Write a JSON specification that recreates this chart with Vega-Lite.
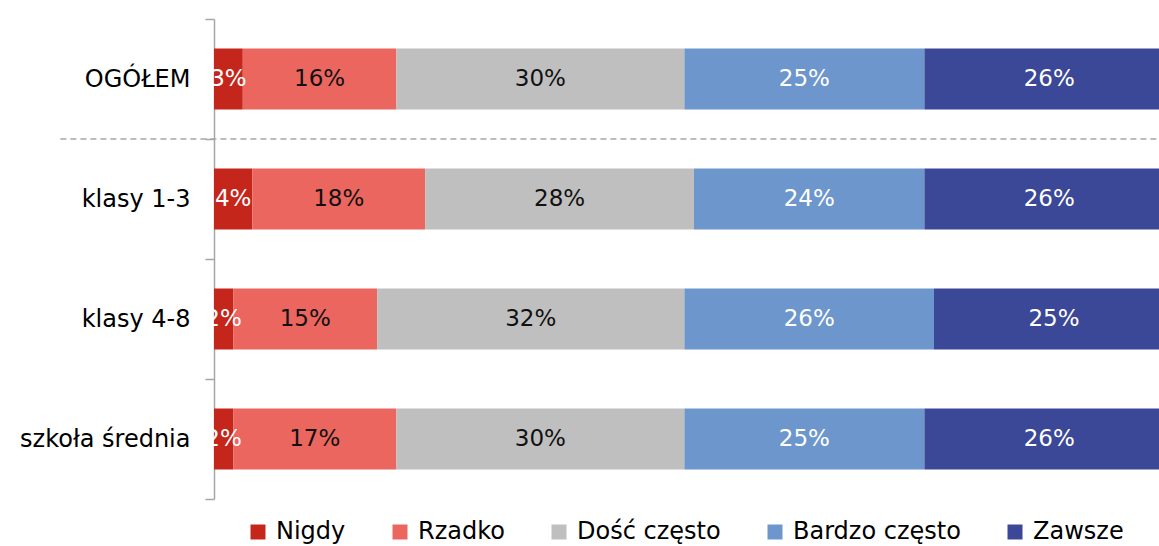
{
  "$schema": "https://vega.github.io/schema/vega-lite/v6.json",
  "width": 960,
  "height": 480,
  "padding": {"left": 0, "top": 7, "right": 0, "bottom": 0},
  "config": {"font": "DejaVu Sans", "view": {"stroke": null}},
  "data": {
    "values": [
      {"cat": "OGÓŁEM", "s": "Nigdy", "o": 1, "v": 3},
      {"cat": "OGÓŁEM", "s": "Rzadko", "o": 2, "v": 16},
      {"cat": "OGÓŁEM", "s": "Dość często", "o": 3, "v": 30},
      {"cat": "OGÓŁEM", "s": "Bardzo często", "o": 4, "v": 25},
      {"cat": "OGÓŁEM", "s": "Zawsze", "o": 5, "v": 26},
      {"cat": "klasy 1-3", "s": "Nigdy", "o": 1, "v": 4},
      {"cat": "klasy 1-3", "s": "Rzadko", "o": 2, "v": 18},
      {"cat": "klasy 1-3", "s": "Dość często", "o": 3, "v": 28},
      {"cat": "klasy 1-3", "s": "Bardzo często", "o": 4, "v": 24},
      {"cat": "klasy 1-3", "s": "Zawsze", "o": 5, "v": 26},
      {"cat": "klasy 4-8", "s": "Nigdy", "o": 1, "v": 2},
      {"cat": "klasy 4-8", "s": "Rzadko", "o": 2, "v": 15},
      {"cat": "klasy 4-8", "s": "Dość często", "o": 3, "v": 32},
      {"cat": "klasy 4-8", "s": "Bardzo często", "o": 4, "v": 26},
      {"cat": "klasy 4-8", "s": "Zawsze", "o": 5, "v": 25},
      {"cat": "szkoła średnia", "s": "Nigdy", "o": 1, "v": 2},
      {"cat": "szkoła średnia", "s": "Rzadko", "o": 2, "v": 17},
      {"cat": "szkoła średnia", "s": "Dość często", "o": 3, "v": 30},
      {"cat": "szkoła średnia", "s": "Bardzo często", "o": 4, "v": 25},
      {"cat": "szkoła średnia", "s": "Zawsze", "o": 5, "v": 26}
    ]
  },
  "layer": [
    {
      "mark": {"type": "bar", "height": {"band": 0.51}},
      "encoding": {
        "y": {
          "field": "cat", "type": "nominal",
          "sort": ["OGÓŁEM", "klasy 1-3", "klasy 4-8", "szkoła średnia"],
          "scale": {"paddingInner": 0, "paddingOuter": 0},
          "axis": {
            "title": null,
            "domainColor": "#a6a6a6", "domainWidth": 1.5,
            "tickColor": "#a6a6a6", "tickWidth": 1.5, "tickSize": 9,
            "tickBand": "extent",
            "labelFontSize": 24, "labelColor": "#000000", "labelPadding": 15,
            "labelLimit": 0, "minExtent": 214, "maxExtent": 214
          }
        },
        "x": {
          "field": "v", "type": "quantitative", "stack": "zero",
          "scale": {"domain": [0, 100]}, "axis": null
        },
        "order": {"field": "o"},
        "color": {
          "field": "s", "type": "nominal",
          "scale": {
            "domain": ["Nigdy", "Rzadko", "Dość często", "Bardzo często", "Zawsze"],
            "range": ["#C5261B", "#EB665E", "#BFBFBF", "#6C96CC", "#3B4797"]
          },
          "legend": {
            "title": null, "orient": "none", "direction": "horizontal",
            "legendX": 32, "legendY": 501,
            "symbolType": "square", "symbolSize": 225, "symbolStrokeWidth": 0,
            "labelFontSize": 24, "labelColor": "#000000", "labelLimit": 0,
            "columnPadding": 42, "symbolOffset": 0, "labelOffset": 6
          }
        }
      }
    },
    {
      "transform": [
        {"stack": "v", "groupby": ["cat"], "sort": [{"field": "o"}], "as": ["x0", "x1"]},
        {"calculate": "(datum.x0 + datum.x1) / 2", "as": "mid"},
        {"calculate": "datum.v + '%'", "as": "lab"}
      ],
      "mark": {"type": "text", "fontSize": 23, "align": "center", "baseline": "middle"},
      "encoding": {
        "y": {"field": "cat", "type": "nominal", "sort": ["OGÓŁEM", "klasy 1-3", "klasy 4-8", "szkoła średnia"]},
        "x": {"field": "mid", "type": "quantitative", "scale": {"domain": [0, 100]}},
        "text": {"field": "lab"},
        "color": {
          "condition": {"test": "datum.s == 'Rzadko' || datum.s == 'Dość często'", "value": "#111111"},
          "value": "#ffffff"
        }
      }
    },
    {
      "data": {"values": [{"cat": "klasy 1-3", "a": -16, "b": 100}]},
      "mark": {"type": "rule", "strokeDash": [6, 4], "color": "#a6a6a6", "strokeWidth": 1.5},
      "encoding": {
        "y": {"field": "cat", "type": "nominal", "bandPosition": 0, "sort": ["OGÓŁEM", "klasy 1-3", "klasy 4-8", "szkoła średnia"]},
        "x": {"field": "a", "type": "quantitative", "scale": {"domain": [0, 100]}},
        "x2": {"field": "b"}
      }
    }
  ]
}
